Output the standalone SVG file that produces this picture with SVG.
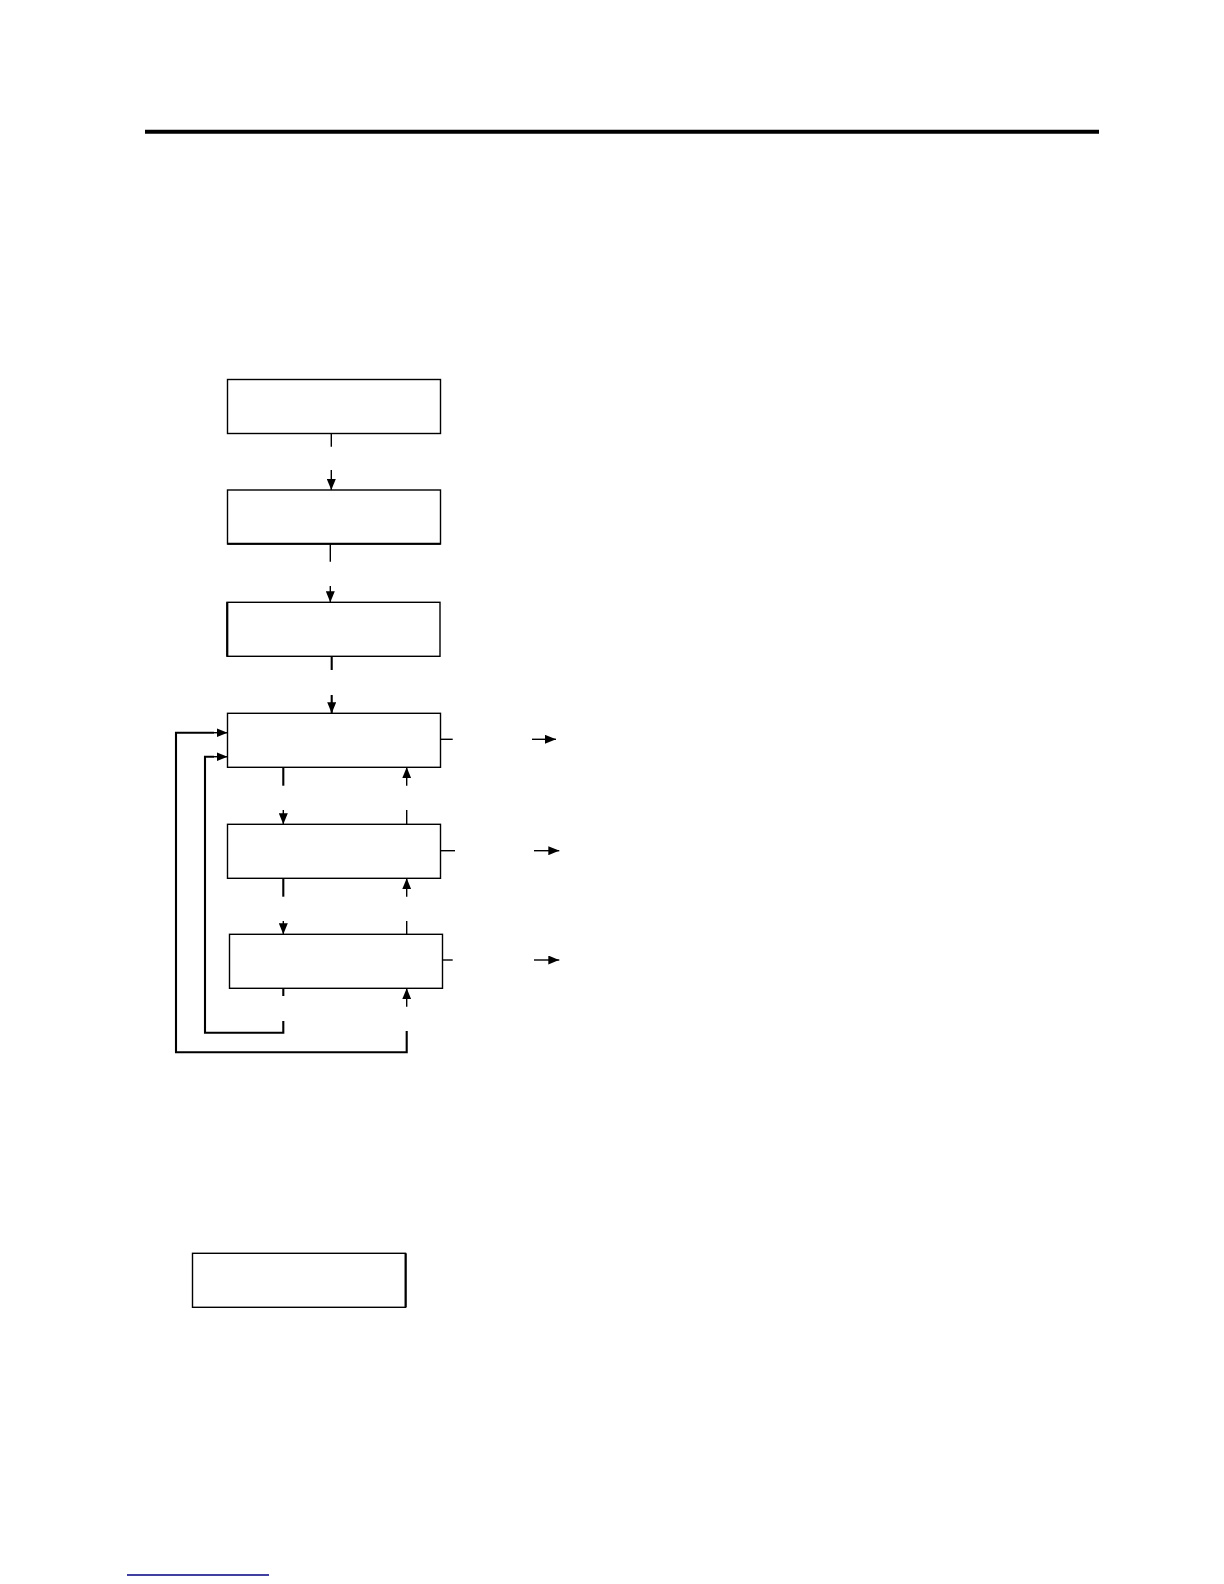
<svg xmlns="http://www.w3.org/2000/svg" width="1224" height="1584" viewBox="0 0 1224 1584">
<style>
.box{fill:#fff;stroke:#000;stroke-width:1.4}
.ln{fill:none;stroke:#000;stroke-width:1.4}
.lnb{fill:none;stroke:#000;stroke-width:2.1}
</style>
<defs>
<marker id="ah" markerWidth="11" markerHeight="9" refX="11" refY="4.5" orient="auto" markerUnits="userSpaceOnUse">
<path d="M0,0 L11,4.5 L0,9 Z" fill="#000"/>
</marker>
</defs>
<rect width="1224" height="1584" fill="#fff"/>
<line x1="145" y1="131.7" x2="1099" y2="131.7" stroke="#000" stroke-width="4"/>
<g id="n1"><rect class="box" x="227.5" y="379.5" width="213" height="54"/></g>
<g id="n2"><rect class="box" x="227.5" y="490" width="213" height="54"/><line x1="227.5" y1="543.7" x2="440.5" y2="543.7" stroke="#000" stroke-width="2.1"/></g>
<g id="n3"><rect class="box" x="227" y="602.3" width="213" height="54"/><line x1="227.3" y1="602.3" x2="227.3" y2="656.3" stroke="#000" stroke-width="2.1"/></g>
<g id="n4"><rect class="box" x="227.5" y="713.3" width="213" height="54"/></g>
<g id="n5"><rect class="box" x="227.5" y="824.3" width="213" height="54"/></g>
<g id="n6"><rect class="box" x="229.5" y="934.3" width="213" height="54"/></g>
<g id="n7"><rect class="box" x="192.5" y="1253.3" width="213" height="54"/><line x1="405.7" y1="1253.3" x2="405.7" y2="1307.3" stroke="#000" stroke-width="2.1"/></g>
<g id="connectors">
<line class="ln" x1="331.3" y1="433.3" x2="331.3" y2="446.7"/>
<line class="ln" x1="331.3" y1="470" x2="331.3" y2="490" marker-end="url(#ah)"/>
<line class="ln" x1="330.3" y1="544" x2="330.3" y2="561.7"/>
<line class="ln" x1="330.3" y1="586" x2="330.3" y2="602.3" marker-end="url(#ah)"/>
<line class="lnb" x1="331.7" y1="656.3" x2="331.7" y2="670"/>
<line class="lnb" x1="331.7" y1="695" x2="331.7" y2="713.3" marker-end="url(#ah)"/>
<line class="lnb" x1="283.3" y1="767.3" x2="283.3" y2="785.7"/>
<line class="ln" x1="283.3" y1="810" x2="283.3" y2="824.3" marker-end="url(#ah)"/>
<line class="lnb" x1="283.3" y1="878.3" x2="283.3" y2="896.7"/>
<line class="ln" x1="283.3" y1="921" x2="283.3" y2="934.3" marker-end="url(#ah)"/>
<line class="lnb" x1="283.3" y1="988.3" x2="283.3" y2="996"/>
<polyline class="lnb" points="283.3,1021 283.3,1032.7 205,1032.7 205,756.7 214,756.7"/>
<line class="ln" x1="214" y1="756.7" x2="227.5" y2="756.7" marker-end="url(#ah)"/>
<polyline class="lnb" points="406.7,1031 406.7,1052.3 176,1052.3 176,732.7 214,732.7"/>
<line class="ln" x1="214" y1="732.7" x2="227.5" y2="732.7" marker-end="url(#ah)"/>
<line class="ln" x1="406.7" y1="1006.7" x2="406.7" y2="988.3" marker-end="url(#ah)"/>
<line class="ln" x1="406.7" y1="934.3" x2="406.7" y2="921"/>
<line class="ln" x1="406.7" y1="896.7" x2="406.7" y2="878.3" marker-end="url(#ah)"/>
<line class="ln" x1="406.7" y1="824.3" x2="406.7" y2="810"/>
<line class="ln" x1="406.7" y1="785.7" x2="406.7" y2="767.3" marker-end="url(#ah)"/>
<line class="ln" x1="440.7" y1="739.3" x2="452.7" y2="739.3"/>
<line class="ln" x1="532" y1="739.3" x2="556" y2="739.3" marker-end="url(#ah)"/>
<line class="ln" x1="440.7" y1="850.7" x2="455" y2="850.7"/>
<line class="ln" x1="534" y1="850.7" x2="559.3" y2="850.7" marker-end="url(#ah)"/>
<line class="ln" x1="442.7" y1="960" x2="452.7" y2="960"/>
<line class="ln" x1="534" y1="960" x2="559.3" y2="960" marker-end="url(#ah)"/>
</g>
<line x1="127" y1="1575" x2="269" y2="1575" stroke="#000080" stroke-width="1.4"/>
</svg>
